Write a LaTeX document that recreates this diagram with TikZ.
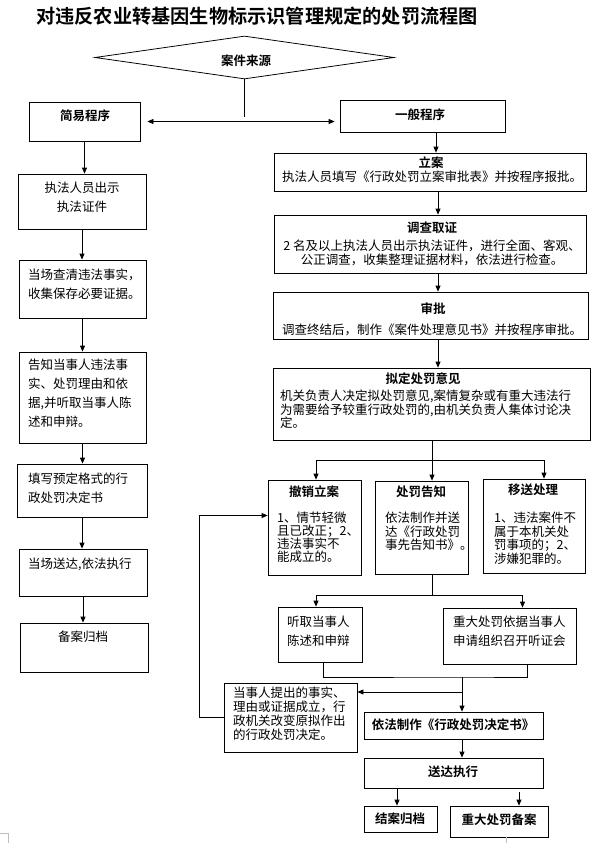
\documentclass[tikz,border=0pt]{standalone}
\usepackage{fontspec}
\setmainfont{Noto Sans CJK SC}[BoldFont={Noto Sans CJK SC Bold}]
\usetikzlibrary{arrows.meta}
\usetikzlibrary{shapes.geometric}

\tikzset{
  frame/.style={draw, line width=0.8pt, inner sep=0pt},
  hd/.style={font=\bfseries\fontsize{12.5}{14}\selectfont, inner sep=0pt},
  txt/.style={font=\fontsize{12.5}{13.5}\selectfont, inner sep=0pt, align=left, anchor=north west},
  txtw/.style={font=\fontsize{12.5}{18.5}\selectfont, inner sep=0pt, align=left, anchor=north west},
  arr/.style={-{Triangle[length=6pt,width=5pt]}, line width=0.8pt},
  dbl/.style={{Triangle[length=6pt,width=5pt]}-{Triangle[length=6pt,width=5pt]}, line width=0.8pt},
  ln/.style={line width=0.8pt},
}

\begin{document}
\begin{tikzpicture}[x=1pt,y=-1pt]
        \fill[white] (0,0) rectangle (599,843);
        \useasboundingbox (0,0) rectangle (599,843);
        \node[anchor=west, inner sep=0pt, font=\bfseries\fontsize{19.2}{22}\selectfont] (title) at (36,16) {对违反农业转基因生物标示识管理规定的处罚流程图};

        % case source and the two procedures
        \node[draw, diamond, aspect=7, minimum width=299pt, minimum height=43pt, inner sep=0pt, line width=0.8pt] (src) at (244.5,57.5) {};
        \node[hd] (src-t) at (246,61) {案件来源};
        \node[frame, minimum width=111pt, minimum height=39pt] (jy) at (84.5,121.5) {};
        \node[hd] (jy-t) at (85,116) {简易程序};
        \node[frame, minimum width=165pt, minimum height=32pt] (yb) at (422.5,116) {};
        \node[hd] (yb-t) at (420,115) {一般程序};

        % simple procedure
        \node[frame, minimum width=128pt, minimum height=55pt] (zf) at (82,201.5) {};
        \node[txtw, align=center, anchor=north] (zf-t) at (82,182) {执法人员出示\\执法证件};
        \node[frame, minimum width=127pt, minimum height=58pt] (dq) at (82.5,289) {};
        \node[txtw] (dq-t) at (28,269) {当场查清违法事实，\\收集保存必要证据。};
        \node[frame, minimum width=127pt, minimum height=91pt] (gz) at (82.5,397.5) {};
        \node[txtw, font=\fontsize{12.5}{19}\selectfont] (gz-t) at (28,359) {告知当事人违法事\\实、处罚理由和依\\据,并听取当事人陈\\述和申辩。};
        \node[frame, minimum width=130pt, minimum height=53pt] (tx) at (82,490.5) {};
        \node[txtw] (tx-t) at (28,473) {填写预定格式的行\\政处罚决定书};
        \node[frame, minimum width=128pt, minimum height=47pt] (sc) at (83,572.5) {};
        \node[txtw] (sc-t) at (28,558) {当场送达,依法执行};
        \node[frame, minimum width=128pt, minimum height=49pt] (bd) at (84,647.5) {};
        \node[txtw, anchor=center] (bd-t) at (83,637) {备案归档};

        % general procedure
        \node[frame, minimum width=312pt, minimum height=38pt] (la) at (430,172) {};
        \node[hd] (la-h) at (431,163) {立案};
        \node[txt, anchor=center] (la-t) at (432,177) {执法人员填写《行政处罚立案审批表》并按程序报批。};
        \node[frame, minimum width=312pt, minimum height=58pt] (dc) at (430,244) {};
        \node[hd] (dc-h) at (432,228) {调查取证};
        \node[txt, align=center, anchor=north] (dc-t) at (432,240) {2 名及以上执法人员出示执法证件，进行全面、客观、\\公正调查，收集整理证据材料，依法进行检查。};
        \node[frame, minimum width=315pt, minimum height=47pt] (sp) at (430.5,315.5) {};
        \node[hd] (sp-h) at (433,309) {审批};
        \node[txt, anchor=center] (sp-t) at (432,330) {调查终结后，制作《案件处理意见书》并按程序审批。};
        \node[frame, minimum width=317pt, minimum height=72pt] (nd) at (431.5,404) {};
        \node[hd] (nd-h) at (423,379) {拟定处罚意见};
        \node[txt] (nd-t) at (280,390) {机关负责人决定拟处罚意见,案情复杂或有重大违法行\\为需要给予较重行政处罚的,由机关负责人集体讨论决\\定。};

        % three outcomes
        \node[frame, minimum width=93pt, minimum height=95pt] (cx) at (314.5,527.5) {};
        \node[hd] (cx-h) at (314,492) {撤销立案};
        \node[txt, font=\fontsize{12.5}{12.5}\selectfont] (cx-t) at (277,512) {1、情节轻微\\且已改正；2、\\违法事实不\\能成立的。};
        \node[frame, minimum width=93pt, minimum height=93pt] (cf) at (421.5,527.5) {};
        \node[hd] (cf-h) at (421,492) {处罚告知};
        \node[txt] (cf-t) at (385,512) {依法制作并送\\达《行政处罚\\事先告知书》。};
        \node[frame, minimum width=102pt, minimum height=94pt] (ys) at (534,526) {};
        \node[hd] (ys-h) at (533,490) {移送处理};
        \node[txt] (ys-t) at (494,512) {1、违法案件不\\属于本机关处\\罚事项的；2、\\涉嫌犯罪的。};

        % hearing and decision
        \node[frame, minimum width=84pt, minimum height=55pt] (tq) at (320,634.5) {};
        \node[txtw] (tq-t) at (287,616) {听取当事人\\陈述和申辩};
        \node[frame, minimum width=133pt, minimum height=56pt] (zd) at (509.5,636) {};
        \node[txtw] (zd-t) at (453,616) {重大处罚依据当事人\\申请组织召开听证会};
        \node[frame, minimum width=133pt, minimum height=69pt] (ds) at (290.5,717.5) {};
        \node[txt, font=\fontsize{12.5}{14}\selectfont] (ds-t) at (233,687) {当事人提出的事实、\\理由或证据成立，行\\政机关改变原拟作出\\的行政处罚决定。};
        \node[frame, minimum width=179pt, minimum height=27pt] (jd) at (453.5,725.5) {};
        \node[hd] (jd-t) at (453,725) {依法制作《行政处罚决定书》};
        \node[frame, minimum width=179pt, minimum height=30pt] (sd) at (453.5,773) {};
        \node[hd] (sd-t) at (453,772) {送达执行};
        \node[frame, minimum width=73pt, minimum height=26pt] (ja) at (400.5,819) {};
        \node[hd] (ja-t) at (400,819) {结案归档};
        \node[frame, minimum width=98pt, minimum height=31pt] (ba) at (499,821.5) {};
        \node[hd] (ba-t) at (499,820) {重大处罚备案};

        % connectors
        \draw[ln] (src.south) -- (src.south |- 0,117);
        \draw[dbl] ([xshift=7pt]jy.east) -- ([xshift=-5pt]jy.east -| yb.west);
        \draw[arr] (jy.south) -- (jy.south |- zf.north);
        \draw[arr] (zf.south) -- (zf.south |- dq.north);
        \draw[arr] (dq.south) -- (dq.south |- gz.north);
        \draw[arr] (gz.south) -- (gz.south |- tx.north);
        \draw[arr] (tx.south) -- (tx.south |- sc.north);
        \draw[arr] (sc.south) -- (sc.south |- bd.north);
        \draw[arr] (yb.south -| 436,0) -- (la.north -| 436,0);
        \draw[arr] (la.south -| 438,0) -- (dc.north -| 438,0);
        \draw[arr] (dc.south -| 438,0) -- (sp.north -| 438,0);
        \draw[arr] (sp.south -| 438,0) -- (nd.north -| 438,0);
        \coordinate (br) at (432,460);
        \draw[arr] (nd.south -| br) -- (cf.north -| br);
        \draw[arr] (br) -| ([xshift=1.5pt]cx.north);
        \draw[arr] (br) -| ([xshift=10pt]ys.north);
        \coordinate (br2) at (432,595);
        \draw[ln] (cf.south -| br2) -- (br2);
        \draw[arr] (br2) -| ([xshift=-4pt]tq.north);
        \draw[arr] (br2) -| ([xshift=13pt]zd.north);
        \coordinate (mg) at (462,677);
        \draw[ln] ([xshift=3pt]tq.south) |- (mg) -| ([xshift=17.5pt]zd.south);
        \draw[arr] (mg) -- (mg |- jd.north);
        \coordinate (bk) at (463,692);
        \draw[arr] (bk) -- (bk -| ds.east);
        \draw[arr] (ds.west) -- ++(-24,0) |- ([yshift=12pt]cx.west);
        \draw[arr] (jd.south -| mg) -- (sd.north -| mg);
        \draw[arr] (sd.south -| 397,0) -- (ja.north -| 397,0);
        \draw[arr, shorten <=4pt] (sd.south -| 519,0) -- (ba.north -| 519,0);

        % page marks
        \draw[gray!50, line width=0.8pt] (0,833) -- (8,833) -- (8,843);
        \draw[gray!50, line width=0.8pt] (506,837) -- (506,843);
    \end{tikzpicture}
\end{document}
